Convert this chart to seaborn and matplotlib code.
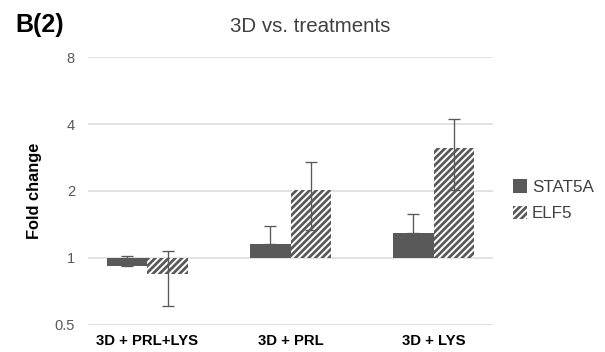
import numpy as np
import pandas as pd
import matplotlib
matplotlib.use("Agg")
import matplotlib.pyplot as plt
import seaborn as sns
from matplotlib.ticker import FixedLocator, FixedFormatter, NullLocator

# ---- data ----
treatments = ["3D + PRL+LYS", "3D + PRL", "3D + LYS"]
genes = ["STAT5A", "ELF5"]
stat5a_fold = [0.92, 1.16, 1.29]
stat5a_err = [0.10, 0.23, 0.285]
elf5_fold = [0.845, 2.02, 3.12]
elf5_err = [0.235, 0.68, 1.10]
y_ticks = [0.5, 1, 2, 4, 8]
y_tick_labels = ["0.5", "1", "2", "4", "8"]
baseline = 1.0

sns.set_style("white")
plt.rcParams["font.family"] = ["Liberation Sans", "DejaVu Sans"]
plt.rcParams["hatch.linewidth"] = 1.65

df = pd.DataFrame({
    "treatment": treatments * 2,
    "gene": [genes[0]] * 3 + [genes[1]] * 3,
    "fold": stat5a_fold + elf5_fold,
    "err": stat5a_err + elf5_err,
})
df["delta"] = df["fold"] - baseline

W, H, DPI = 605, 352, 120
fig = plt.figure(figsize=(W / DPI, H / DPI), dpi=DPI)
ax = fig.add_axes([88.3 / W, 1 - 325.3 / H, (492.7 - 88.3) / W, (325.3 - 56.7) / H])

sns.barplot(data=df, x="treatment", y="delta", hue="gene", order=treatments,
            hue_order=genes, palette={"STAT5A": "#595959", "ELF5": "white"},
            width=0.57, bottom=baseline, errorbar=None, legend=False,
            linewidth=0, saturation=1, ax=ax)

stat_bars, elf_bars = ax.containers[0], ax.containers[1]
for p in elf_bars:
    p.set_facecolor("white")
    p.set_edgecolor("#595959")
    p.set_hatch("//////")
    p.set_linewidth(0)

# error bars (STAT5A plus only, ELF5 both)
for bars, sub, plus_only in [(stat_bars, df[df.gene == "STAT5A"], True),
                              (elf_bars, df[df.gene == "ELF5"], False)]:
    xs = [p.get_x() + p.get_width() / 2 for p in bars]
    errs = sub["err"].to_numpy()
    lower = np.zeros_like(errs) if plus_only else errs
    ax.errorbar(xs, sub["fold"].to_numpy(), yerr=[lower, errs], fmt="none",
                ecolor="#595959", elinewidth=0.8, capsize=3.6, capthick=0.8, zorder=3)

ax.set_yscale("log", base=2)
ax.set_ylim(0.5 / 1.004, 8 * 1.004)
ax.yaxis.set_major_locator(FixedLocator(y_ticks))
ax.yaxis.set_major_formatter(FixedFormatter(y_tick_labels))
ax.yaxis.set_minor_locator(NullLocator())
ax.grid(axis="y", color="#d9d9d9", linewidth=0.9)
ax.grid(axis="x", visible=False)
ax.set_axisbelow(True)
for s in ax.spines.values():
    s.set_visible(False)
ax.tick_params(axis="y", length=0, pad=8, labelsize=8.8, labelcolor="#595959")
ax.tick_params(axis="x", length=0, pad=5, labelsize=8.9, labelcolor="black")
for t in ax.get_xticklabels():
    t.set_fontweight("bold")
ax.set_xlabel("")
ax.set_ylabel("Fold change", fontsize=9.8, fontweight="bold", color="black")
ax.yaxis.set_label_coords(-0.115, 0.5)

leg = ax.legend(handles=[stat_bars, elf_bars], labels=genes, loc="center left",
                bbox_to_anchor=(512.7 / W, 1 - 200.2 / H), bbox_transform=fig.transFigure,
                frameon=False, fontsize=10.2, handlelength=0.82, handleheight=0.85,
                handletextpad=0.3, labelspacing=0.65, borderpad=0, borderaxespad=0)
for t in leg.get_texts():
    t.set_color("#404040")

fig.text(310 / W, 1 - 31.7 / H, "3D vs. treatments", ha="center", va="baseline",
         fontsize=12.3, color="#404040")
fig.text(15 / W, 1 - 32.3 / H, "B(2)", ha="left", va="baseline", fontsize=15,
         fontweight="bold", color="black")

fig.savefig("out.png", dpi=DPI)
